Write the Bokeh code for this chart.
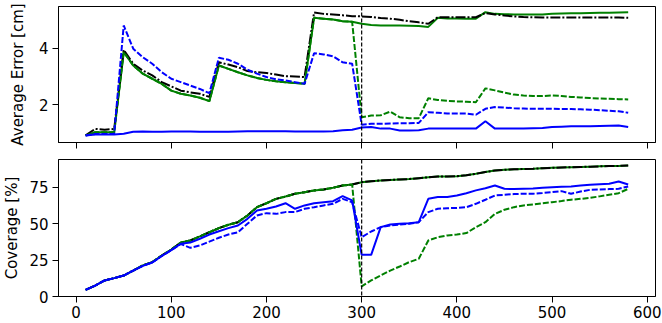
from bokeh.plotting import figure
from bokeh.models import Range1d, Span, FixedTicker
from bokeh.layouts import column
from bokeh.embed import file_html
from bokeh.resources import INLINE

# ---------------- data ----------------
steps = list(range(10, 581, 10))

x_ticks = [0, 100, 200, 300, 400, 500, 600]
err_ticks = [2, 4]
cov_ticks = [0, 25, 50, 75]
switch_x = 300

err_black = [0.92, 1.15, 1.12, 1.15, 3.94, 3.45, 3.21, 3.04, 2.80, 2.65,
             2.50, 2.44, 2.39, 2.28, 3.50, 3.42, 3.33, 3.19, 3.15, 3.12,
             3.07, 3.01, 3.00, 2.98, 5.26, 5.21, 5.19, 5.16, 5.13, 5.12,
             5.10, 5.06, 5.04, 5.00, 4.95, 4.91, 4.86, 5.09, 5.09, 5.09,
             5.09, 5.09, 5.24, 5.19, 5.15, 5.12, 5.10, 5.09, 5.08, 5.08,
             5.08, 5.08, 5.08, 5.08, 5.08, 5.08, 5.08, 5.07]

err_green = [0.92, 1.03, 1.03, 1.03, 3.86, 3.39, 3.10, 2.92, 2.74, 2.50,
             2.39, 2.33, 2.25, 2.13, 3.39, 3.27, 3.15, 3.04, 2.95, 2.88,
             2.83, 2.80, 2.77, 2.74, 5.07, 5.04, 5.01, 4.95, 4.93, 4.86,
             4.82, 4.80, 4.80, 4.80, 4.79, 4.78, 4.75, 5.07, 5.05, 5.05,
             5.04, 5.04, 5.27, 5.21, 5.20, 5.19, 5.19, 5.19, 5.19, 5.21,
             5.22, 5.23, 5.23, 5.24, 5.25, 5.25, 5.26, 5.27]

err_green_dash = [0.92, 1.03, 1.03, 1.03, 3.86, 3.39, 3.10, 2.92, 2.74, 2.50,
                  2.39, 2.33, 2.25, 2.13, 3.39, 3.27, 3.15, 3.04, 2.95, 2.88,
                  2.83, 2.80, 2.77, 2.74, 5.07, 5.04, 5.01, 4.95, 4.93, 1.56,
                  1.62, 1.63, 1.76, 1.56, 1.53, 1.53, 2.23, 2.17, 2.14, 2.12,
                  2.11, 2.09, 2.58, 2.51, 2.43, 2.36, 2.33, 2.31, 2.31, 2.33,
                  2.31, 2.28, 2.26, 2.24, 2.22, 2.21, 2.20, 2.19]

err_blue = [0.92, 0.95, 0.95, 0.95, 0.98, 1.05, 1.06, 1.05, 1.05, 1.06,
            1.06, 1.06, 1.05, 1.05, 1.05, 1.05, 1.06, 1.07, 1.07, 1.07,
            1.07, 1.07, 1.06, 1.06, 1.06, 1.06, 1.07, 1.10, 1.12, 1.20,
            1.22, 1.16, 1.16, 1.09, 1.09, 1.10, 1.16, 1.16, 1.16, 1.16,
            1.16, 1.16, 1.42, 1.16, 1.16, 1.16, 1.16, 1.17, 1.18, 1.22,
            1.23, 1.24, 1.24, 1.24, 1.25, 1.26, 1.27, 1.22]

err_blue_dash = [0.92, 0.97, 0.97, 0.97, 4.80, 3.98, 3.68, 3.45, 3.15, 2.92,
                 2.80, 2.68, 2.56, 2.41, 3.66, 3.59, 3.45, 3.24, 3.10, 2.98,
                 2.90, 2.86, 2.80, 2.74, 3.82, 3.78, 3.71, 3.50, 3.45, 1.30,
                 1.33, 1.33, 1.34, 1.35, 1.35, 1.36, 1.74, 1.72, 1.69, 1.69,
                 1.69, 1.65, 1.86, 1.92, 1.90, 1.88, 1.87, 1.86, 1.86, 1.86,
                 1.85, 1.85, 1.84, 1.83, 1.81, 1.79, 1.77, 1.72]

cov_black = [4.6, 7.5, 11.0, 12.6, 14.4, 17.8, 21.3, 23.6, 28.1, 32.2,
             37.0, 38.4, 41.2, 44.1, 46.9, 49.2, 51.0, 55.6, 61.3, 64.0,
             67.0, 68.6, 70.5, 71.6, 72.8, 73.4, 74.6, 76.2, 76.9, 78.4,
             79.1, 79.6, 80.0, 80.3, 80.6, 81.2, 81.8, 82.4, 82.4, 82.5,
             83.2, 84.2, 85.4, 86.5, 86.9, 87.3, 87.5, 87.6, 88.0, 88.3,
             88.5, 88.7, 88.9, 89.1, 89.3, 89.5, 89.6, 89.9]

cov_green = [4.6, 7.5, 11.0, 12.6, 14.4, 17.8, 21.3, 23.6, 28.1, 32.2,
             37.0, 38.4, 41.2, 44.1, 46.9, 49.2, 51.0, 55.6, 61.3, 64.0,
             67.0, 68.6, 70.5, 71.6, 72.8, 73.4, 74.6, 76.2, 76.9, 78.4,
             79.1, 79.6, 80.0, 80.3, 80.6, 81.2, 81.8, 82.4, 82.4, 82.5,
             83.2, 84.2, 85.4, 86.5, 86.9, 87.3, 87.5, 87.6, 88.0, 88.3,
             88.5, 88.7, 88.9, 89.1, 89.3, 89.5, 89.6, 89.9]

cov_green_dash = [4.6, 7.5, 11.0, 12.6, 14.4, 17.8, 21.3, 23.6, 28.1, 32.2,
                  37.0, 38.4, 41.2, 44.1, 46.9, 49.2, 51.0, 55.6, 61.3, 64.0,
                  67.0, 68.6, 70.5, 71.6, 72.8, 73.4, 74.6, 76.2, 76.9, 7.0,
                  11.0, 14.4, 17.8, 20.6, 23.6, 25.9, 38.4, 40.7, 41.9, 42.5,
                  43.5, 47.6, 51.0, 56.7, 59.5, 61.3, 62.5, 63.1, 64.0, 64.7,
                  65.5, 66.4, 67.0, 67.7, 68.7, 69.8, 70.9, 73.9]

cov_blue = [4.6, 7.5, 11.0, 12.6, 14.4, 17.8, 21.0, 23.3, 27.8, 31.8,
            36.2, 37.0, 39.6, 42.5, 44.8, 46.9, 48.7, 53.3, 59.0, 60.2,
            61.8, 64.0, 60.2, 62.5, 64.0, 64.7, 65.4, 68.9, 65.9, 28.6,
            28.6, 47.6, 49.4, 49.9, 50.3, 51.0, 67.0, 68.2, 68.2, 69.3,
            70.9, 72.8, 74.3, 76.2, 73.9, 73.7, 74.0, 74.1, 74.6, 75.0,
            75.3, 75.5, 76.1, 76.7, 77.0, 77.3, 78.9, 76.9]

cov_blue_dash = [4.6, 7.5, 11.0, 12.6, 14.4, 17.8, 21.0, 23.3, 27.8, 31.8,
                 36.0, 33.4, 35.0, 37.7, 40.3, 42.5, 44.1, 49.9, 55.6, 57.2,
                 56.7, 57.9, 57.9, 60.2, 61.3, 62.5, 63.6, 67.0, 64.7, 40.7,
                 44.6, 47.6, 48.7, 49.4, 49.9, 51.0, 57.9, 60.2, 60.6, 60.8,
                 61.3, 63.6, 66.4, 69.3, 69.8, 70.3, 70.5, 70.5, 71.0, 71.6,
                 72.3, 70.5, 72.0, 73.2, 73.4, 73.7, 73.9, 75.5]

# ---------------- styling ----------------
FONT = "DejaVu Sans"
FSIZE = "15px"
BLACK = "#000000"
GREEN = "#008000"
BLUE = "#0000ff"
LW = 2

x_range = Range1d(-18.5, 608.7)


def style(p, yticks, ylabel, ylabel_standoff, show_xlabels):
    p.xgrid.visible = False
    p.ygrid.visible = False
    p.background_fill_color = "white"
    p.border_fill_color = "white"
    p.outline_line_color = "black"
    p.outline_line_width = 1
    p.outline_line_alpha = 1
    for ax in (p.xaxis[0], p.yaxis[0]):
        ax.axis_line_color = "black"
        ax.axis_line_width = 1
        ax.major_tick_line_color = "black"
        ax.major_tick_in = 0
        ax.major_tick_out = 6
        ax.minor_tick_line_color = None
        ax.major_label_text_font = FONT
        ax.major_label_text_font_size = FSIZE
        ax.major_label_text_color = "black"
        ax.major_label_standoff = 4
    p.xaxis.major_label_standoff = 3
    p.xaxis.ticker = FixedTicker(ticks=x_ticks)
    p.yaxis.ticker = FixedTicker(ticks=yticks)
    p.yaxis.axis_label = ylabel
    p.yaxis.axis_label_text_font = FONT
    p.yaxis.axis_label_text_font_size = FSIZE
    p.yaxis.axis_label_text_font_style = "normal"
    p.yaxis.axis_label_text_color = "black"
    p.yaxis.axis_label_standoff = ylabel_standoff
    if not show_xlabels:
        p.xaxis.major_label_text_font_size = "0px"
        p.xaxis.major_label_text_alpha = 0
        p.xaxis.major_label_standoff = 0


p1 = figure(width=662, height=150, x_range=x_range, y_range=Range1d(0.67, 5.47),
            output_backend="svg", toolbar_location=None,
            min_border_left=54, min_border_right=7, min_border_top=6, min_border_bottom=8)
style(p1, err_ticks, "Average Error [cm]", 9, False)

p2 = figure(width=662, height=173, x_range=x_range, y_range=Range1d(0, 94),
            output_backend="svg", toolbar_location=None,
            min_border_left=54, min_border_right=7, min_border_top=9, min_border_bottom=27)
style(p2, cov_ticks, "Coverage [%]", 5, True)

# error panel
p1.line(steps, err_green, line_color=GREEN, line_width=LW)
p1.line(steps, err_black, line_color=BLACK, line_width=LW, line_dash="10 2 2 2")
p1.line(steps, err_green_dash, line_color=GREEN, line_width=LW, line_dash="6 2")
p1.line(steps, err_blue, line_color=BLUE, line_width=LW)
p1.line(steps, err_blue_dash, line_color=BLUE, line_width=LW, line_dash="6 2")

# coverage panel
p2.line(steps, cov_green, line_color=GREEN, line_width=LW)
p2.line(steps, cov_black, line_color=BLACK, line_width=LW, line_dash="10 2 2 2")
p2.line(steps, cov_green_dash, line_color=GREEN, line_width=LW, line_dash="6 2")
p2.line(steps, cov_blue, line_color=BLUE, line_width=LW)
p2.line(steps, cov_blue_dash, line_color=BLUE, line_width=LW, line_dash="6 2")

for p in (p1, p2):
    p.add_layout(Span(location=switch_x, dimension="height", line_color="black",
                      line_width=1.2, line_dash="4 2"))

layout = column(p1, p2)
open("out.html", "w").write(file_html(layout, INLINE))
